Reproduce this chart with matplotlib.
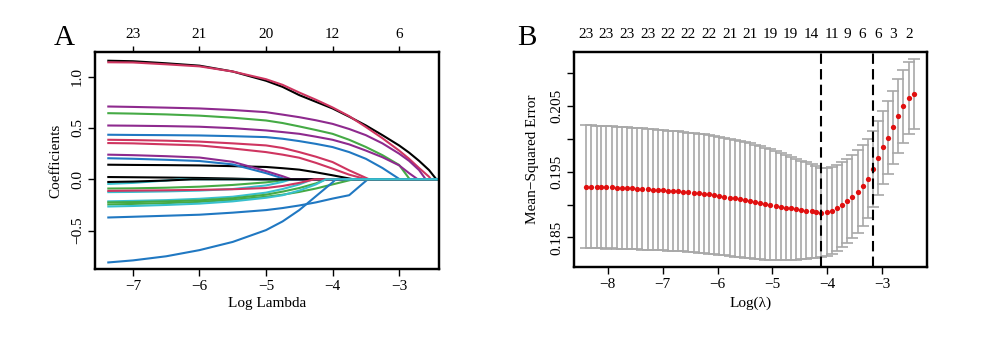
import numpy as np
import matplotlib
matplotlib.use("Agg")
import matplotlib.pyplot as plt

plt.rcParams['font.family'] = ['Liberation Serif', 'DejaVu Serif']

# ---- panel A: lasso coefficient paths ----
grid_a = [-7.37, -7.0, -6.5, -6.0, -5.5, -5.0, -4.75, -4.5, -4.25, -4.0,
          -3.75, -3.5, -3.25, -3.0, -2.85, -2.7, -2.55]
x_end_a = -2.43

# values on grid_a until each path reaches zero (zero_at)
coef_paths = [
    [1.155, 1.15, 1.13, 1.107, 1.05, 0.96, 0.90, 0.82, 0.755, 0.69, 0.61, 0.525, 0.43, 0.33, 0.26, 0.18, 0.09],
    [1.14, 1.138, 1.12, 1.10, 1.05, 0.975, 0.92, 0.845, 0.775, 0.70, 0.615, 0.51, 0.40, 0.28, 0.20, 0.11, 0.025],
    [0.644, 0.64, 0.632, 0.62, 0.60, 0.573, 0.548, 0.515, 0.48, 0.443, 0.385, 0.315, 0.235, 0.14],
    [0.434, 0.432, 0.43, 0.427, 0.42, 0.411, 0.395, 0.372, 0.345, 0.314, 0.265, 0.2, 0.11],
    [-0.215, -0.21, -0.203, -0.19, -0.17, -0.13, -0.095, -0.05],
    [0.709, 0.705, 0.698, 0.69, 0.675, 0.654, 0.63, 0.605, 0.575, 0.54, 0.49, 0.43, 0.35, 0.25, 0.18, 0.09],
    [0.142, 0.14, 0.138, 0.135, 0.128, 0.12, 0.108, 0.094, 0.068, 0.039, 0.008],
    [0.385, 0.382, 0.376, 0.367, 0.35, 0.33, 0.305, 0.265, 0.22, 0.168, 0.087],
    [-0.09, -0.088, -0.082, -0.072, -0.055, -0.03, -0.01],
    [-0.372, -0.365, -0.355, -0.345, -0.325, -0.30, -0.28, -0.255, -0.225, -0.188, -0.155],
    [-0.125, -0.123, -0.118, -0.11, -0.095, -0.06, -0.025],
    [0.524, 0.522, 0.518, 0.512, 0.498, 0.476, 0.46, 0.443, 0.415, 0.385, 0.34, 0.28, 0.215, 0.136, 0.06],
    [0.022, 0.02, 0.017, 0.013, 0.007],
    [0.353, 0.35, 0.34, 0.33, 0.30, 0.265, 0.24, 0.21, 0.16, 0.104, 0.045],
    [-0.225, -0.222, -0.215, -0.205, -0.185, -0.15, -0.12, -0.085, -0.04],
    [0.205, 0.2, 0.19, 0.178, 0.145, 0.06, 0.01],
    [-0.045, -0.035, -0.012],
    [0.24, 0.235, 0.225, 0.212, 0.17, 0.08, 0.03],
    [-0.026, -0.022, -0.012],
    [-0.113, -0.11, -0.107, -0.103, -0.097, -0.085, -0.065, -0.035],
    [-0.245, -0.24, -0.232, -0.22, -0.2, -0.17, -0.15, -0.123, -0.09, -0.05, -0.01],
    [-0.81, -0.79, -0.75, -0.69, -0.61, -0.495, -0.41, -0.30, -0.165, -0.03],
    [-0.265, -0.26, -0.25, -0.237, -0.215, -0.18, -0.155, -0.11, -0.05],
]
zero_at = [-2.44, -2.52, -2.84, -2.99, -4.3, -2.60, -3.69, -3.45, -4.62, -3.47,
           -4.62, -2.72, -5.1, -3.49, -4.1, -4.7, -6.3, -4.62, -6.1, -4.27,
           -3.69, -3.95, -4.1]
path_colors = ['black', '#CF3560', '#45AA45', '#2078C2', '#38C0CE', '#8E2A8E']

top_at_a = [-7, -6, -5, -4, -3]
top_df_a = ['23', '21', '20', '12', '6']

# ---- panel B: cross-validation curve ----
log_lambda_b = [-8.39, -8.30, -8.20, -8.11, -8.02, -7.92, -7.83, -7.74, -7.65, -7.55,
                -7.46, -7.37, -7.27, -7.18, -7.09, -6.99, -6.90, -6.81, -6.71, -6.62,
                -6.53, -6.43, -6.34, -6.25, -6.16, -6.06, -5.97, -5.88, -5.78, -5.69,
                -5.60, -5.50, -5.41, -5.32, -5.22, -5.13, -5.04, -4.94, -4.85, -4.76,
                -4.67, -4.57, -4.48, -4.39, -4.29, -4.20, -4.11, -4.01, -3.92, -3.83,
                -3.73, -3.64, -3.55, -3.45, -3.36, -3.27, -3.18, -3.08, -2.99, -2.90,
                -2.80, -2.71, -2.62, -2.52, -2.43]
mse = [0.19272, 0.19270, 0.19267, 0.19265, 0.19262, 0.19260, 0.19257, 0.19255, 0.19250, 0.19247,
       0.19242, 0.19237, 0.19232, 0.19227, 0.19222, 0.19217, 0.19211, 0.19206, 0.19201, 0.19194,
       0.19186, 0.19178, 0.19171, 0.19163, 0.19153, 0.19143, 0.19133, 0.19120, 0.19107, 0.19095,
       0.19082, 0.19069, 0.19057, 0.19044, 0.19029, 0.19014, 0.18998, 0.18983, 0.18968, 0.18953,
       0.18940, 0.18927, 0.18917, 0.18907, 0.18897, 0.18887, 0.18877,
       0.18882, 0.18907, 0.18947, 0.18998, 0.19054, 0.19120, 0.19196, 0.19287, 0.19394, 0.19541,
       0.19709, 0.19871, 0.20018, 0.20175, 0.20348, 0.20495, 0.20622, 0.20683]
mse_se = [0.00934, 0.00934, 0.00934, 0.00931, 0.00931, 0.00928, 0.00928, 0.00926, 0.00926, 0.00923,
          0.00923, 0.00921, 0.00918, 0.00918, 0.00916, 0.00913, 0.00913, 0.00911, 0.00911, 0.00908,
          0.00908, 0.00906, 0.00903, 0.00903, 0.00901, 0.00898, 0.00898, 0.00893, 0.00890, 0.00888,
          0.00883, 0.00878, 0.00873, 0.00865, 0.00857, 0.00852, 0.00842, 0.00830, 0.00817, 0.00802,
          0.00786, 0.00769, 0.00751, 0.00733, 0.00715, 0.00698, 0.00680,
          0.00670, 0.00660, 0.00649, 0.00644, 0.00639, 0.00634, 0.00629, 0.00619, 0.00599, 0.00583,
          0.00568, 0.00558, 0.00558, 0.00558, 0.00558, 0.00558, 0.00548, 0.00538]
nz_idx = [0, 4, 8, 12, 16, 20, 24, 28, 32, 36, 40, 44, 48, 51, 54, 57, 60, 63]
nz_labels = ['23', '23', '23', '23', '22', '22', '22', '21', '21', '19', '19', '14',
             '11', '9', '6', '6', '3', '2']

fig = plt.figure(figsize=(10, 3.41), dpi=100)
axA = fig.add_axes([0.095, 0.2111, 0.344, 0.6364])
axB = fig.add_axes([0.574, 0.217, 0.353, 0.6305])

# panel A
for i, vals in enumerate(coef_paths):
    n = len(vals)
    xs = grid_a[:n] + [zero_at[i], x_end_a]
    ys = vals + [0, 0]
    axA.plot(xs, ys, color=path_colors[i % 6], lw=1.5, solid_joinstyle='round')

axA.set_xlim(-7.57, -2.40)
axA.set_ylim(-0.874, 1.24)
axA.set_xticks([-7, -6, -5, -4, -3])
axA.set_yticks([-0.5, 0.0, 0.5, 1.0])
axA.set_yticklabels(['\u22120.5', '0.0', '0.5', '1.0'])
axA.set_xlabel('Log Lambda', fontsize=11)
axA.set_ylabel('Coefficients', fontsize=11)
axA.xaxis.set_label_coords(0.5, -0.13)
axA.yaxis.set_label_coords(-0.095, 0.5)

topA = axA.twiny()
topA.set_xlim(axA.get_xlim())
topA.set_xticks(top_at_a)
topA.set_xticklabels(top_df_a)
topA.tick_params(axis='x', direction='out', length=4, width=1, labelsize=11, pad=4)

# panel B
axB.errorbar(log_lambda_b, mse, yerr=mse_se, fmt='none', ecolor='#A8A8A8',
             elinewidth=1.2, capsize=4, capthick=1.2)
axB.plot(log_lambda_b, mse, 'o', color='#E01010', markersize=3.8, markeredgewidth=0)

i_min = int(np.argmin(mse))
thr = mse[i_min] + mse_se[i_min]
i_1se = max(i for i in range(i_min, len(mse)) if mse[i] <= thr)
for k in (i_min, i_1se):
    axB.axvline(log_lambda_b[k], color='black', lw=1.5, ls=(0, (5, 2.5)))

axB.set_xlim(-8.61, -2.19)
axB.set_ylim(0.1805, 0.2132)
axB.set_xticks([-8, -7, -6, -5, -4, -3])
axB.set_yticks([0.185, 0.19, 0.195, 0.2, 0.205, 0.21])
axB.set_yticklabels(['0.185', '', '0.195', '', '0.205', ''])
axB.set_xlabel('Log(\u03bb)', fontsize=11)
axB.set_ylabel('Mean\u2212Squared Error', fontsize=11)
axB.xaxis.set_label_coords(0.5, -0.135)
axB.yaxis.set_label_coords(-0.1, 0.5)

topB = axB.twiny()
topB.set_xlim(axB.get_xlim())
topB.set_xticks([log_lambda_b[i] for i in nz_idx])
topB.set_xticklabels(nz_labels)
topB.tick_params(axis='x', length=0, labelsize=11, pad=8)

for ax in (axA, axB):
    ax.tick_params(direction='out', length=5, width=1, labelsize=11, pad=3)
    ax.tick_params(axis='y', labelrotation=90)
    for lbl in ax.get_yticklabels():
        lbl.set_va('center')
    for side in ('top', 'bottom', 'left', 'right'):
        ax.spines[side].set_linewidth(1.6)
for ax in (topA, topB):
    for side in ('top', 'bottom', 'left', 'right'):
        ax.spines[side].set_linewidth(1.6)

fig.text(0.064, 0.89, 'A', fontsize=21, ha='center', va='center')
fig.text(0.5265, 0.89, 'B', fontsize=21, ha='center', va='center')

fig.savefig('out.png', dpi=100)
